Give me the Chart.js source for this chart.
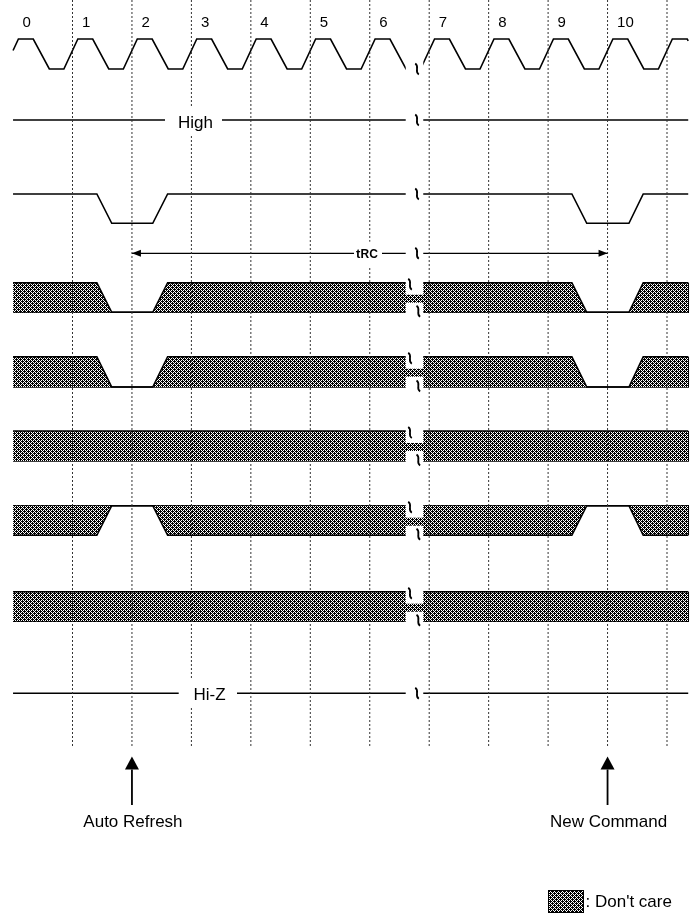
<!DOCTYPE html>
<html><head><meta charset="utf-8">
<script src="https://cdn.jsdelivr.net/npm/chart.js@4"></script>
<style>html,body{margin:0;padding:0;background:#fff}#wrap{width:696px;height:915px;position:relative}</style>
</head><body><div id="wrap"><canvas id="c"></canvas></div>
<script>
// ---------------- data ----------------
const cycleLabels = ['0','1','2','3','4','5','6','7','8','9','10'];
const cycles = [0,1,2,3,4,5,6,7,8,9,10,11];
const gridCycles = [1,2,3,4,5,6,7,8,9,10,11];
// command pulses: [fall start, fall end, rise start, rise end] in clock cycles
const pulseEdges = [[1.41,1.66,2.35,2.60],[9.40,9.65,10.36,10.60]];
const signalSpan = [0, 11.357];
const breakWindow = [6.605, 6.90];
const trcSpan = [2, 10];
const commandMarks = [2, 10];
const commandTexts = ['Auto Refresh','New Command'];
const levelTexts = ['High','Hi-Z'];
const hatchKinds = ['low','low','full','high','full'];
// clock shape within a cycle: [offset, level]
const clkShape = [[-0.145,'lo'],[0.09,'hi'],[0.34,'hi'],[0.61,'lo']];

// ---------------- layout ----------------
const L = {
  clk:{hi:39, lo:69},
  high:120,
  cmd:{hi:194, lo:223.3},
  trc:253.3,
  hatch:[{top:282.7,bot:312.3},{top:356.7,bot:387},{top:431,bot:461},{top:505.7,bot:535.3},{top:591.7,bot:621.3}],
  hiz:693.3,
  gridTop:0, gridBottom:748,
  arrowTip:756.5, arrowBase:769.5, arrowEnd:805,
  xMin:-0.21951, xMax:11.4878
};

// hatch pattern
const pc = document.createElement('canvas'); pc.width=4; pc.height=4;
const pctx = pc.getContext('2d');
pctx.fillStyle='#fff'; pctx.fillRect(0,0,4,4); pctx.fillStyle='#000';
['1010','0111','1010','1101'].forEach((row,j)=>[...row].forEach((b,i)=>{ if(b==='1') pctx.fillRect(i,j,1,1); }));
const hatch = pctx.createPattern(pc,'repeat');

function interp(p,q,x){ const f=(x-p.x)/(q.x-p.x); return {x, y:p.y+(q.y-p.y)*f}; }
function clip(v,a,b){
  const out=[];
  for(let i=0;i<v.length;i++){
    const p=v[i];
    if(p.x>=a && p.x<=b){
      if(out.length===0 && i>0) out.push(interp(v[i-1],p,a));
      out.push(p);
    } else if(p.x>b && out.length){ out.push(interp(v[i-1],p,b)); break; }
  }
  return out;
}
function clockPoints(){
  const v=[];
  cycles.forEach(k=>clkShape.forEach(([dt,l])=>v.push({x:k+dt,y:L.clk[l]})));
  return clip(v, signalSpan[0], signalSpan[1]);
}
function pulseTrace(rest, active){
  const pts=[{x:signalSpan[0],y:rest}];
  pulseEdges.forEach(e=>{ pts.push({x:e[0],y:rest},{x:e[1],y:active},{x:e[2],y:active},{x:e[3],y:rest}); });
  pts.push({x:signalSpan[1],y:rest});
  return pts;
}
function flat(y){ return [{x:signalSpan[0],y},{x:signalSpan[1],y}]; }

const base = {type:'line', borderColor:'#000', borderWidth:1.6, pointRadius:0, tension:0, fill:false};
const datasets = [];
// dashed cycle lines (drawn on top)
gridCycles.forEach(g=>datasets.push({...base, order:0, borderWidth:1, borderColor:'#333', borderDash:[2,2],
  data:[{x:g,y:L.gridTop},{x:g,y:L.gridBottom}]}));
// clock
datasets.push({...base, order:1, data:clockPoints()});
// High line
datasets.push({...base, order:1, data:flat(L.high)});
// command line
datasets.push({...base, order:1, data:pulseTrace(L.cmd.hi, L.cmd.lo)});
// tRC line
datasets.push({...base, order:1, borderWidth:1.3, data:[{x:trcSpan[0],y:L.trc},{x:trcSpan[1],y:L.trc}]});
// hatched buses
L.hatch.forEach((r,i)=>{
  const kind = hatchKinds[i];
  const edge = [{x:signalSpan[1],y:r.bot},{x:signalSpan[1],y:r.top}];
  if(kind==='low'){
    datasets.push({...base, order:1, data:pulseTrace(r.top, r.bot), fill:{value:r.bot}, backgroundColor:hatch});
    datasets.push({...base, order:1, data:[{x:signalSpan[0],y:r.bot}, ...edge]});
  } else if(kind==='high'){
    datasets.push({...base, order:1, data:pulseTrace(r.bot, r.top), fill:{value:r.top}, backgroundColor:hatch});
    datasets.push({...base, order:1, data:[{x:signalSpan[0],y:r.top},{x:signalSpan[1],y:r.top},{x:signalSpan[1],y:r.bot}]});
  } else {
    datasets.push({...base, order:1, data:flat(r.top), fill:{value:r.bot}, backgroundColor:hatch});
    datasets.push({...base, order:1, data:[{x:signalSpan[0],y:r.bot}, ...edge]});
  }
});
// Hi-Z line
datasets.push({...base, order:1, data:flat(L.hiz)});
// command arrows shafts
commandMarks.forEach(m=>datasets.push({...base, order:1, borderWidth:1.8, data:[{x:m,y:L.arrowBase},{x:m,y:L.arrowEnd}]}));

const FONT = '"Liberation Sans", Arial, Helvetica, sans-serif';
const overlay = {
  id:'overlay',
  afterDatasetsDraw(chart){
    const {ctx} = chart; const xs=chart.scales.x, ys=chart.scales.y;
    const X=v=>xs.getPixelForValue(v), Y=v=>ys.getPixelForValue(v);
    ctx.save();
    const bx0=X(breakWindow[0]), bx1=X(breakWindow[1]), bw=bx1-bx0;
    ctx.fillStyle='#fff';
    [[L.clk.hi-3,L.clk.lo+3],[L.high-4,L.high+4],[L.cmd.hi-4,L.cmd.hi+4],[L.trc-4,L.trc+4],[L.hiz-4,L.hiz+4]]
      .forEach(([a,b])=>ctx.fillRect(bx0,Y(a),bw,Y(b)-Y(a)));
    L.hatch.forEach(r=>{
      ctx.fillRect(bx0,Y(r.top-3),bw,Y(r.top+12)-Y(r.top-3));
      ctx.fillRect(bx0,Y(r.top+20),bw,Y(r.bot+3)-Y(r.top+20));
    });
    // squiggles
    function sq(x,y){
      ctx.beginPath(); ctx.lineWidth=1.8; ctx.strokeStyle='#000';
      ctx.moveTo(x-1.8,y-5.5);
      ctx.bezierCurveTo(x+3,y-2.5,x-3,y+2.5,x+1.8,y+5.5);
      ctx.stroke();
    }
    const sx=X(6.795);
    [L.clk.lo,L.high,L.cmd.hi,L.trc,L.hiz].forEach(y=>sq(sx,Y(y)));
    L.hatch.forEach(r=>{ sq(X(6.677),Y(r.top+1.5)); sq(X(6.817),Y(r.bot-1)); });
    // label boxes + text
    function label(txt,cx,y,left,right,top,bottom,font){
      ctx.fillStyle='#fff'; ctx.fillRect(left,top,right-left,bottom-top);
      ctx.fillStyle='#000'; ctx.font=font; ctx.textAlign='center'; ctx.textBaseline='alphabetic';
      ctx.fillText(txt,cx,y);
    }
    label(levelTexts[0], 195.5, 128.3, 165, 222, 107, 135, '17px '+FONT);
    label(levelTexts[1], 209.5, 700, 178.7, 237, 680, 708, '17px '+FONT);
    // tRC label
    ctx.fillStyle='#fff'; ctx.fillRect(354,241.7,28,25);
    ctx.fillStyle='#000'; ctx.textAlign='left'; ctx.textBaseline='alphabetic';
    ctx.font='bold 13px '+FONT; ctx.fillText('t',356,258.3);
    ctx.font='bold 12px '+FONT; ctx.fillText('RC',360.5,258.3);
    // tRC arrowheads
    function tri(a,b,c){ ctx.beginPath(); ctx.moveTo(...a); ctx.lineTo(...b); ctx.lineTo(...c); ctx.closePath(); ctx.fillStyle='#000'; ctx.fill(); }
    const ty=Y(L.trc), tl=X(trcSpan[0]), tr=X(trcSpan[1]);
    tri([tl,ty],[tl+9,ty-3.5],[tl+9,ty+3.5]);
    tri([tr,ty],[tr-9,ty-3.5],[tr-9,ty+3.5]);
    // command arrowheads and texts
    commandMarks.forEach((m,i)=>{
      const ax=X(m);
      tri([ax,Y(L.arrowTip)],[ax-7,Y(L.arrowBase)],[ax+7,Y(L.arrowBase)]);
      ctx.font='17px '+FONT; ctx.textAlign='center'; ctx.fillStyle='#000';
      ctx.fillText(commandTexts[i], ax+1, 826.5);
    });
    // cycle labels
    ctx.font='15px '+FONT; ctx.textAlign='left';
    cycleLabels.forEach((t,k)=>ctx.fillText(t, X(k)+9.5, 26.7));
    // legend
    ctx.fillStyle=hatch; ctx.fillRect(548,890,36,23);
    ctx.strokeStyle='#000'; ctx.lineWidth=1; ctx.strokeRect(548.5,890.5,35,22);
    ctx.fillStyle='#000'; ctx.font='17px '+FONT; ctx.textAlign='left';
    ctx.fillText(": Don't care", 585.5, 906.7);
    ctx.restore();
  }
};

new Chart(document.getElementById('c'), {
  type:'line',
  data:{datasets},
  options:{
    responsive:true, maintainAspectRatio:false, animation:false,
    layout:{padding:0},
    events:[],
    scales:{
      x:{type:'linear', min:L.xMin, max:L.xMax, display:false},
      y:{type:'linear', min:0, max:915, reverse:true, display:false}
    },
    plugins:{legend:{display:false}, tooltip:{enabled:false}}
  },
  plugins:[overlay]
});
</script></body></html>
